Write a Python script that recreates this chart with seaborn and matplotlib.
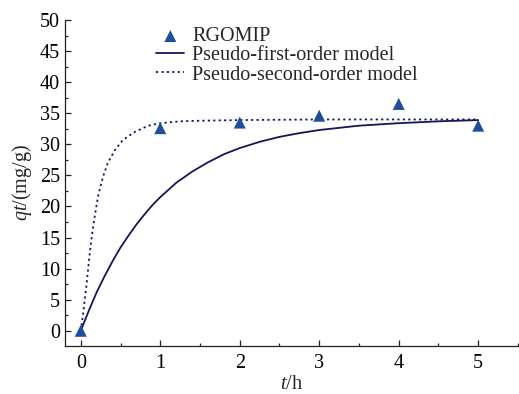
"""
Adsorption kinetics of RGOMIP: measured qt with pseudo-first-order
and pseudo-second-order model curves (values read off the figure).
"""

import pandas as pd
import matplotlib.pyplot as plt
from matplotlib.ticker import MultipleLocator
import seaborn as sns

# === data ===
t_exp = [0, 1, 2, 3, 4, 5]
q_exp = [0.0, 32.6, 33.5, 34.6, 36.5, 33.0]

t_first = [0, 0.1, 0.2, 0.3, 0.4, 0.5, 0.6, 0.7, 0.8, 0.9, 1.0, 1.2, 1.4,
           1.6, 1.8, 2.0, 2.25, 2.5, 2.75, 3.0, 3.5, 4.0, 4.5, 5.0]
q_first = [0.0, 3.2, 6.2, 8.8, 11.2, 13.4, 15.3, 17.1, 18.7, 20.2, 21.5,
           23.8, 25.6, 27.1, 28.4, 29.4, 30.4, 31.2, 31.8, 32.3, 33.0,
           33.4, 33.7, 33.9]

t_second = [0, 0.03, 0.07, 0.1, 0.13, 0.17, 0.22, 0.28, 0.34, 0.43, 0.53,
            0.68, 0.85, 1.0, 1.25, 1.5, 2.0, 3.0, 4.0, 5.0]
q_second = [0.0, 2.8, 7.1, 10.9, 14.4, 18.0, 21.8, 24.8, 27.0, 29.1, 30.7,
            32.0, 33.0, 33.4, 33.7, 33.8, 33.9, 34.0, 34.0, 34.0]

df_exp = pd.DataFrame({"t": t_exp, "q": q_exp})
df_first = pd.DataFrame({"t": t_first, "q": q_first})
df_second = pd.DataFrame({"t": t_second, "q": q_second})

# === style ===
sns.set_style("ticks")
plt.rcParams["font.family"] = ["Liberation Serif", "DejaVu Serif"]
plt.rcParams["mathtext.fontset"] = "custom"
plt.rcParams["mathtext.rm"] = "Liberation Serif"
plt.rcParams["mathtext.it"] = "Liberation Serif:italic"

MARK = "#1f4f9c"
NAVY = "#15155e"
FS = 14.5

fig = plt.figure(figsize=(5.19, 3.94), dpi=100)
ax = fig.add_axes([0.125, 0.1226, 0.873, 0.8266])

sns.scatterplot(data=df_exp, x="t", y="q", marker="^", s=75, color=MARK,
                edgecolor="none", label="RGOMIP", ax=ax, zorder=3)
sns.lineplot(data=df_first, x="t", y="q", sort=False, estimator=None,
             color=NAVY, lw=1.3, label="Pseudo-first-order model", ax=ax)
sns.lineplot(data=df_second, x="t", y="q", sort=False, estimator=None,
             color=NAVY, lw=1.3, linestyle=(0, (1.2, 1.8)),
             label="Pseudo-second-order model", ax=ax)

# === axes ===
ax.set_xlim(-0.2, 5.5)
ax.set_ylim(-2.4, 50)
ax.xaxis.set_major_locator(MultipleLocator(1))
ax.xaxis.set_minor_locator(MultipleLocator(0.5))
ax.yaxis.set_major_locator(MultipleLocator(5))
ax.yaxis.set_minor_locator(MultipleLocator(2.5))
ax.tick_params(which="both", direction="in", colors="#222222",
               labelcolor="black", labelsize=FS, width=0.9)
ax.tick_params(which="major", length=4)
ax.tick_params(which="minor", length=2.5)
ax.tick_params(axis="x", which="major", pad=6)

sns.despine(ax=ax)
ax.spines["left"].set_bounds(-2.4, 50)
for side in ("left", "bottom"):
    ax.spines[side].set_color("#222222")
    ax.spines[side].set_linewidth(0.9)

ax.set_xlabel(r"$t$/h", fontsize=FS, labelpad=1.5)
ax.set_ylabel(r"$qt$/(mg/g)", fontsize=FS, labelpad=4)

leg = ax.legend(loc="upper left", bbox_to_anchor=(0.175, 1.015), frameon=False,
                fontsize=FS, handlelength=1.4, handletextpad=0.4,
                labelspacing=0.0, borderaxespad=0.2)

plt.savefig("out.png", dpi=100)
